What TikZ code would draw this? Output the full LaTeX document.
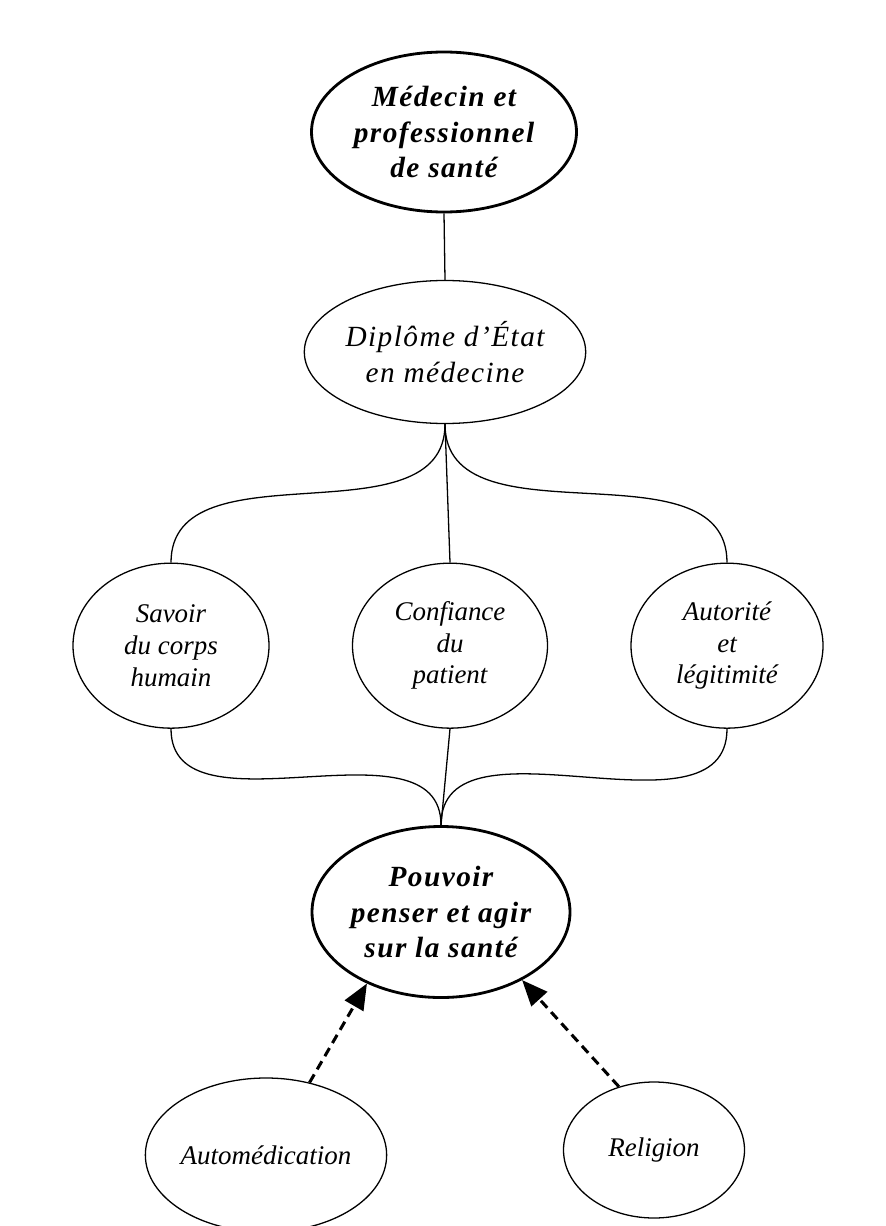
\documentclass[tikz,border=0pt]{standalone}
\usepackage{fontspec}
\setmainfont{Liberation Serif}
\usetikzlibrary{shapes.geometric,arrows.meta}

\begin{document}
\begin{tikzpicture}[
        every node/.style={ellipse, draw, align=center, inner sep=0pt, line width=1.1pt,
            font=\itshape\fontsize{23}{27}\selectfont},
        strong/.style={line width=2.4pt,
            font=\bfseries\itshape\fontsize{25}{30}\selectfont\addfontfeature{LetterSpace=5}},
        link/.style={draw, line width=1.1pt},
        pull/.style={draw, line width=2.6pt, dash pattern=on 8pt off 5pt,
            -{Triangle[length=22pt,width=18pt]}}]
    \useasboundingbox[fill=white] (0,0) rectangle (26.55,-36.78);

    % Top node
    \node[strong, minimum width=7.95cm, minimum height=4.8cm] (medecin) at (13.32,-3.96)
        {M\'edecin et\\professionnel\\de sant\'e};
    \node[minimum width=6.9cm, minimum height=4.29cm,
        font=\itshape\fontsize{25}{31}\selectfont\addfontfeature{LetterSpace=5}]
        (diplome) at (13.35,-10.56) {Dipl\^ome d'\'Etat\\en m\'edecine};

    % Middle row
    \node[minimum width=5.88cm, minimum height=4.95cm] (savoir) at (5.13,-19.37)
        {Savoir\\du corps\\humain};
    \node[minimum width=5.85cm, minimum height=4.95cm] (confiance) at (13.5,-19.37)
        {Confiance\\du\\patient};
    \node[minimum width=5.76cm, minimum height=4.95cm] (autorite) at (21.81,-19.37)
        {Autorit\'e\\et\\l\'egitimit\'e};

    % Result node
    \node[strong, minimum width=7.74cm, minimum height=5.13cm] (pouvoir) at (13.23,-27.36)
        {Pouvoir\\penser et agir\\sur la sant\'e};

    % Bottom row
    \node[minimum width=6.6cm, minimum height=4.62cm] (automed) at (7.98,-34.65)
        {Autom\'edication};
    \node[minimum width=5.43cm, minimum height=4.08cm] (religion) at (19.62,-34.5)
        {Religion};

    % Connectors
    \path[link] (medecin.south) -- (diplome.north);
    \path[link] (diplome.south) to[out=-90, in=90] (savoir.north);
    \path[link] (diplome.south) -- (confiance.north);
    \path[link] (diplome.south) to[out=-90, in=90] (autorite.north);
    \path[link] (savoir.south) to[out=-90, in=90] (pouvoir.north);
    \path[link] (confiance.south) -- (pouvoir.north);
    \path[link] (autorite.south) to[out=-90, in=90] (pouvoir.north);

    \path[pull] (automed.59) -- (pouvoir.224);
    \path[pull] (religion.119) -- (pouvoir.320);
\end{tikzpicture}
\end{document}
